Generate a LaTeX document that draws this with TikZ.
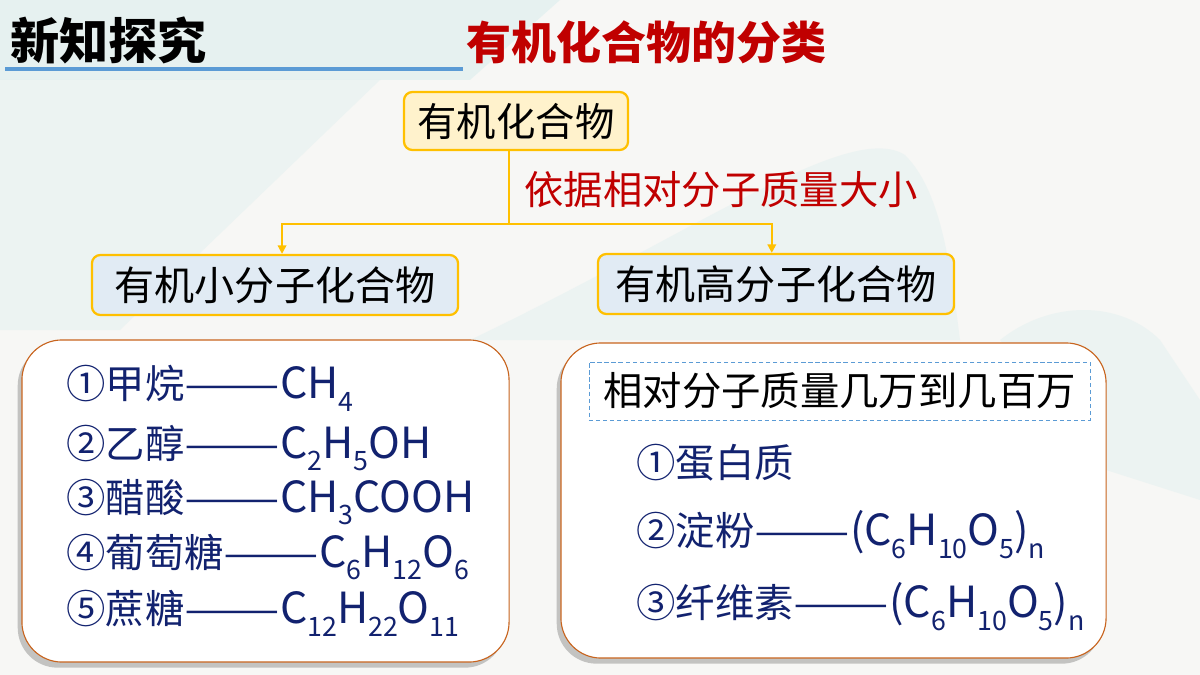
\documentclass[tikz,border=0pt]{standalone}
\usepackage{fontspec}
\setmainfont{Noto Sans CJK SC}
\usetikzlibrary{arrows.meta,shadows}
\definecolor{amber}{HTML}{FFC000}
\definecolor{crimson}{HTML}{C00000}
\definecolor{navy}{HTML}{12226F}
\definecolor{cream}{HTML}{FFF2CC}
\definecolor{frost}{HTML}{E1EBF4}
\definecolor{rust}{HTML}{C8641E}
\definecolor{sky}{HTML}{5B9BD5}
\definecolor{paper}{HTML}{F7F7F5}
\definecolor{mint}{HTML}{DCEEEE}
\newcommand{\fs}[1]{\fontsize{#1}{#1}\selectfont}
\newcommand{\dashes}{\scalebox{1.45}[1]{——}}
\newcommand{\chem}[1]{{\fs{30.5}#1}}
\newcommand{\sbs}[1]{\raisebox{-0.3em}{\fs{19}#1}}
\begin{document}
\begin{tikzpicture}[x=0.025cm, y=-0.025cm,
  catbox/.style={draw=amber, line width=1.6pt, rounded corners=6pt, inner sep=0pt, text=black},
  link/.style={draw=amber, line width=1.4pt},
  panel/.style={draw=rust, line width=0.8pt, fill=white, rounded corners=1cm,
    drop shadow={shadow xshift=-3pt, shadow yshift=-4pt, opacity=0.3, fill=black!70}},
  item/.style={anchor=west, inner sep=0pt, text=navy, font=\fs{28}}]
  \useasboundingbox (0,0) rectangle (1200,675);
  % background
  \fill[paper] (0,0) rectangle (1200,675);
  \fill[mint, opacity=0.6] (0,0) -- (560,0) -- (470,80) -- (0,80) -- cycle;
  \fill[mint, opacity=0.4] (0,80) -- (380,80) -- (120,330) -- (0,330) -- cycle;
  \fill[mint, opacity=0.4] (470,340) .. controls (700,230) and (850,120) .. (905,155) .. controls (940,190) and (950,260) .. (960,340) -- cycle;
  \fill[mint, opacity=0.4] (1000,340) .. controls (1050,300) and (1120,300) .. (1160,340) -- (1200,400) -- (1200,500) -- (1106,470) -- cycle;
  % titles
  \node[anchor=west, inner sep=0pt, font=\fs{35}\bfseries] (kicker) at (10,40) {新知探究};
  \draw[sky, line width=2.2pt] (5,69) -- (463,69);
  \node[anchor=west, inner sep=0pt, text=crimson, font=\fs{32}\bfseries] (headline) at (466,42) {有机化合物的分类};
  % tree
  \node[catbox, fill=cream, minimum width=5.6cm, minimum height=1.45cm, font=\fs{28}] (top) at (516,121) {有机化合物};
  \node[catbox, fill=frost, minimum width=9.15cm, minimum height=1.5cm, font=\fs{28.5}] (small) at (275,285) {有机小分子化合物};
  \node[catbox, fill=frost, minimum width=8.9cm, minimum height=1.5cm, font=\fs{28.5}] (large) at (776,284) {有机高分子化合物};
  \coordinate (fork) at (509,224);
  \draw[link] (509,150) -- (fork);
  \draw[link, -{Triangle[width=6pt,length=6pt]}] (fork) -| ([xshift=5pt]small.north);
  \draw[link, -{Triangle[width=6pt,length=6pt]}] (fork) -| ([xshift=-3pt]large.north);
  \node[anchor=west, inner sep=0pt, text=crimson, font=\fs{28}] (basis) at (524,190) {依据相对分子质量大小};
  % panels
  \node[panel, minimum width=12.175cm, minimum height=8.05cm] (lpanel) at (265.5,501) {};
  \node[panel, minimum width=13.625cm, minimum height=7.875cm] (rpanel) at (833.5,500.5) {};
  \foreach \y/\t [count=\i] in {388/{①甲烷\dashes\chem{CH\sbs{4}}},
      448/{②乙醇\dashes\chem{C\sbs{2}H\sbs{5}OH}},
      502/{③醋酸\dashes\chem{CH\sbs{3}COOH}},
      557/{④葡萄糖\dashes\chem{C\sbs{6}H\sbs{12}O\sbs{6}}},
      613/{⑤蔗糖\dashes\chem{C\sbs{12}H\sbs{22}O\sbs{11}}}}
    \node[item] (s\i) at (66,\y) {\t};
  \node[draw=sky, densely dashed, line width=0.6pt, inner sep=0pt, minimum width=12.525cm, minimum height=1.45cm, font=\fs{28}] (note) at (839.5,391) {相对分子质量几万到几百万};
  \foreach \y/\t [count=\i] in {463/{①蛋白质},
      535/{②淀粉\dashes\chem{(C\sbs{6}H\sbs{10}O\sbs{5})\sbs{n}}},
      607/{③纤维素\dashes\chem{(C\sbs{6}H\sbs{10}O\sbs{5})\sbs{n}}}}
    \node[item] (p\i) at (636,\y) {\t};
\end{tikzpicture}
\end{document}
